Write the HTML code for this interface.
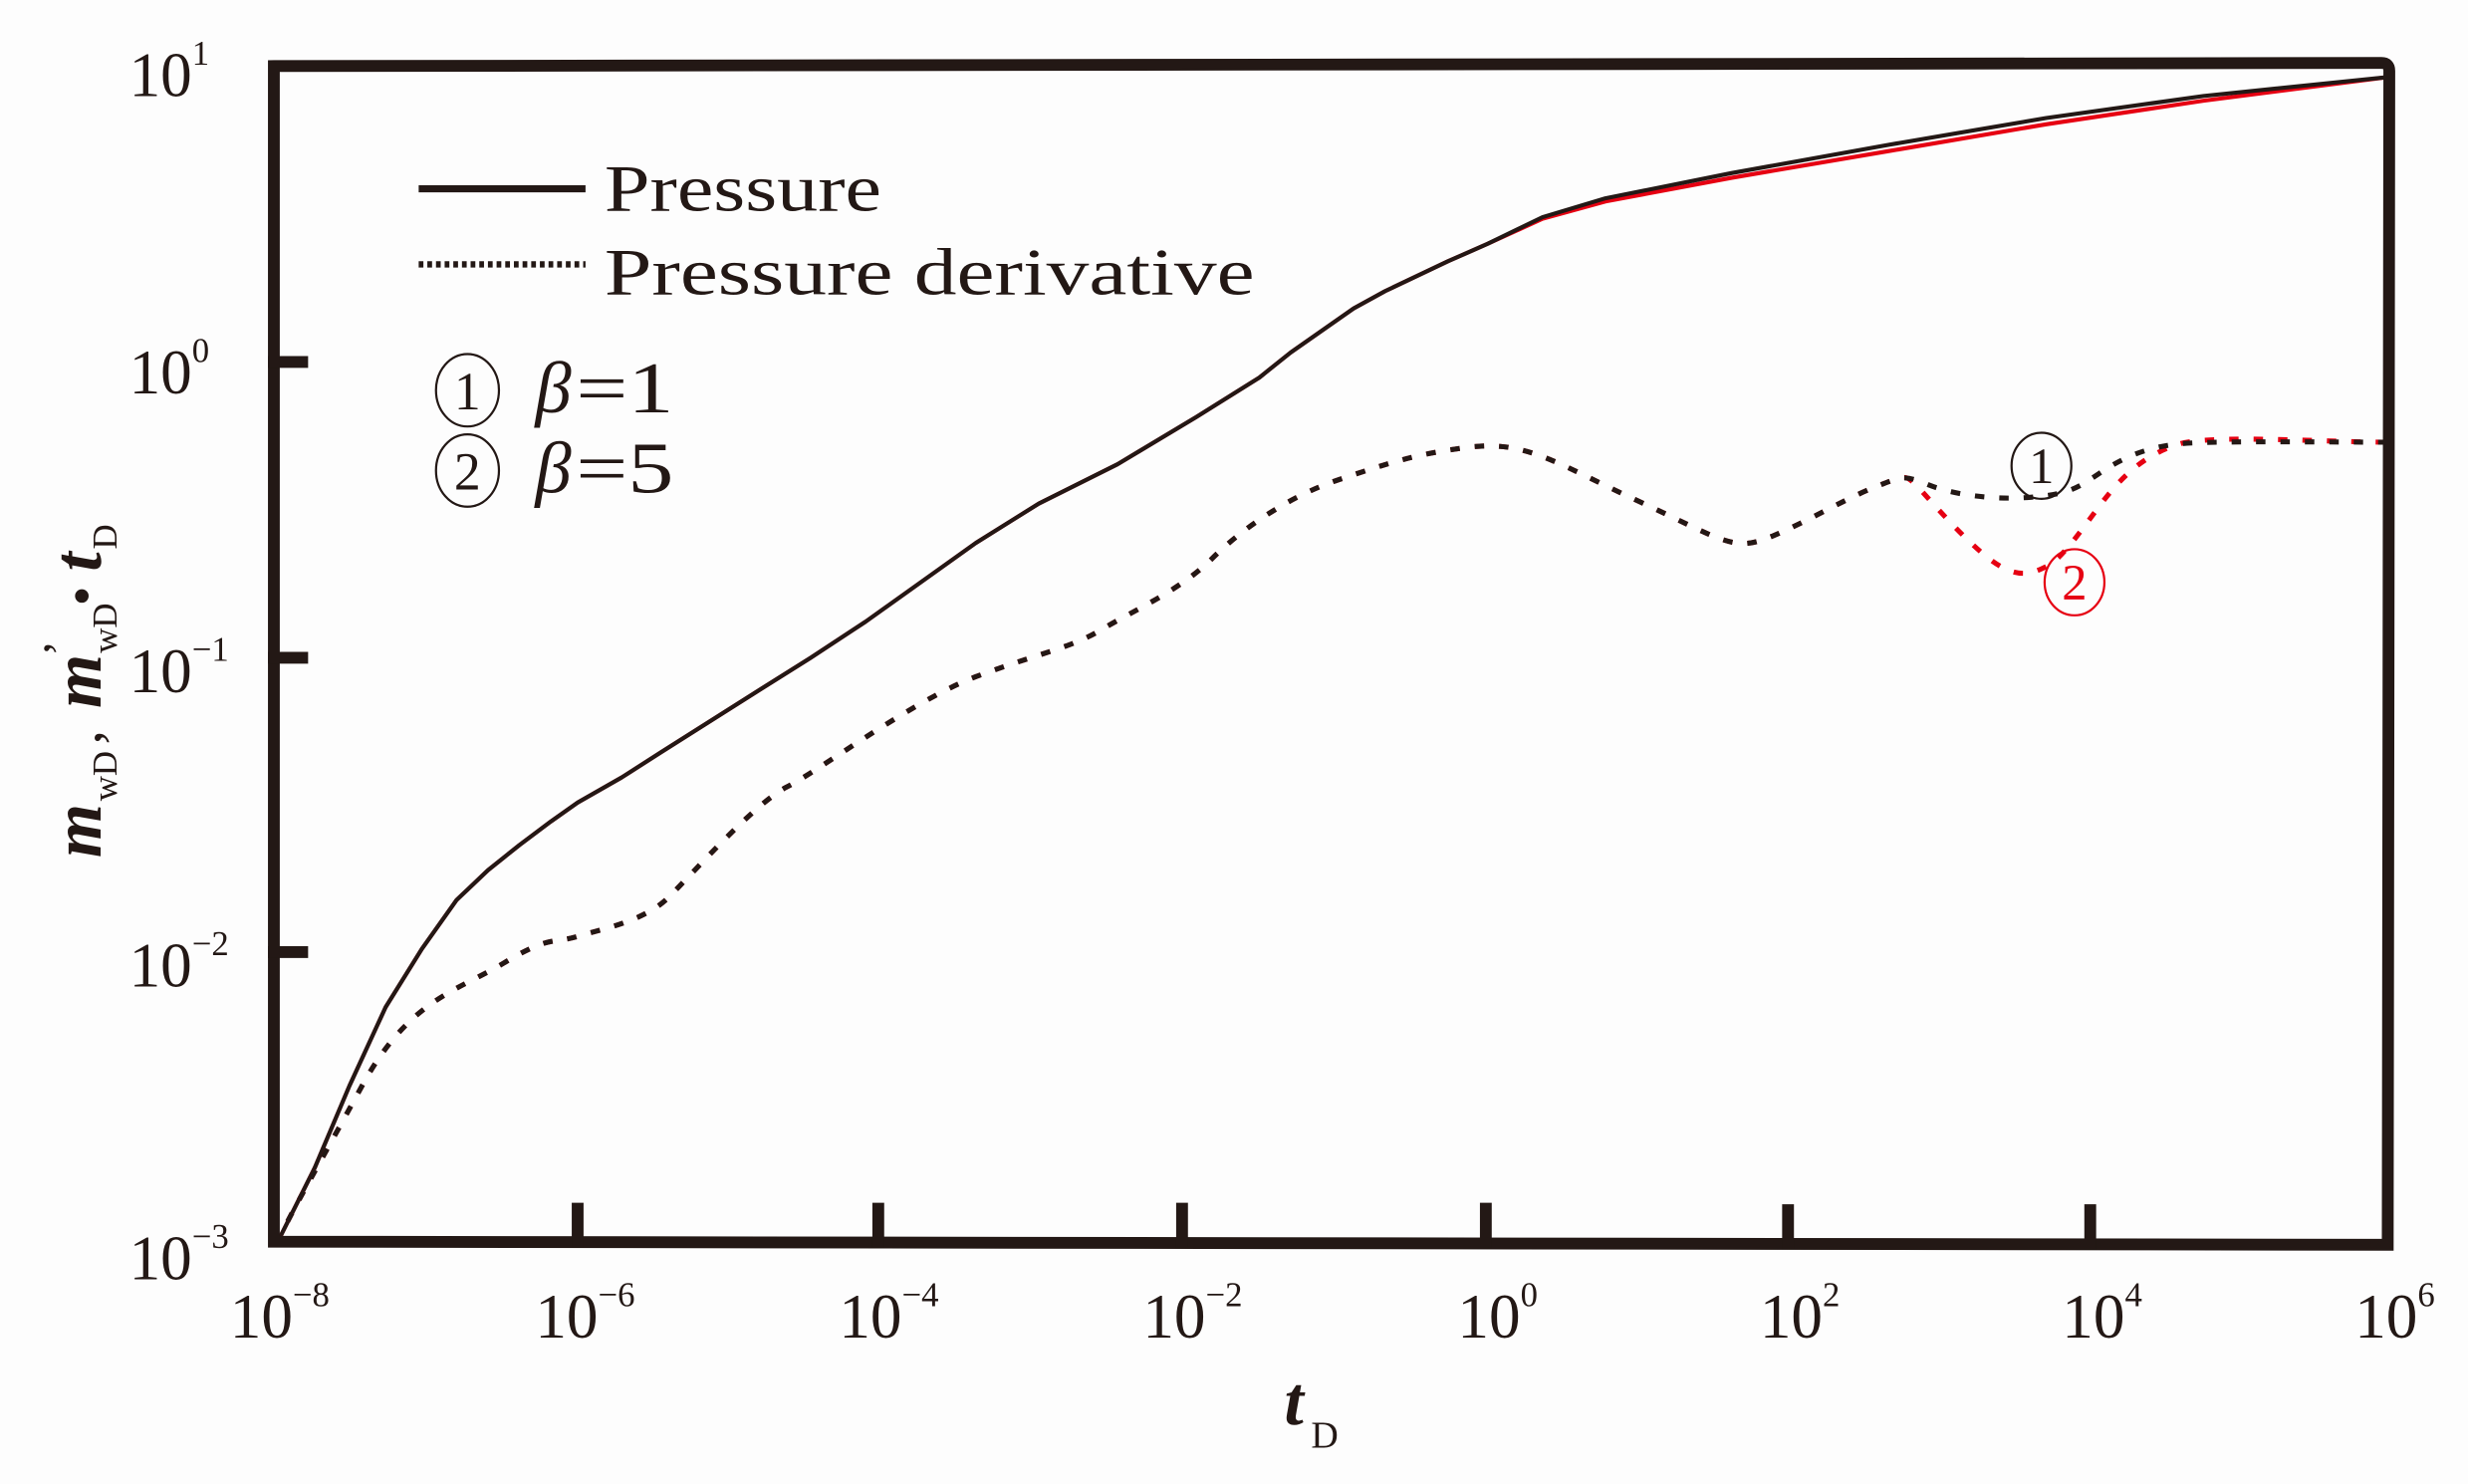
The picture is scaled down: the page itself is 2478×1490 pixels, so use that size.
<!DOCTYPE html>
<html><head><meta charset="utf-8"><style>
html,body{margin:0;padding:0;background:#fdfdfd;}
svg{display:block}
</style></head><body>
<svg width="2478" height="1490" viewBox="0 0 1568 943" preserveAspectRatio="none" xmlns="http://www.w3.org/2000/svg">
<rect width="1568" height="943" fill="#fdfdfd"/>
<g font-family="'Liberation Serif', serif" fill="#231815">
<text x="82" y="61" font-size="40">10<tspan font-size="22" dy="-20">1</tspan></text>
<text x="82" y="250" font-size="40">10<tspan font-size="22" dy="-20">0</tspan></text>
<text x="82" y="440" font-size="40">10<tspan font-size="22" dy="-20">−1</tspan></text>
<text x="82" y="627" font-size="40">10<tspan font-size="22" dy="-20">−2</tspan></text>
<text x="82" y="813" font-size="40">10<tspan font-size="22" dy="-20">−3</tspan></text>
<text x="146" y="850" font-size="40">10<tspan font-size="22" dy="-20">−8</tspan></text>
<text x="340" y="850" font-size="40">10<tspan font-size="22" dy="-20">−6</tspan></text>
<text x="533" y="850" font-size="40">10<tspan font-size="22" dy="-20">−4</tspan></text>
<text x="726" y="850" font-size="40">10<tspan font-size="22" dy="-20">−2</tspan></text>
<text x="926" y="850" font-size="40">10<tspan font-size="22" dy="-20">0</tspan></text>
<text x="1118" y="850" font-size="40">10<tspan font-size="22" dy="-20">2</tspan></text>
<text x="1310" y="850" font-size="40">10<tspan font-size="22" dy="-20">4</tspan></text>
<text x="1496" y="850" font-size="40">10<tspan font-size="22" dy="-20">6</tspan></text>
<text x="816" y="905" font-size="44" font-style="italic" font-weight="bold">t</text>
<text x="833" y="920" font-size="24">D</text>
<g transform="translate(64,545) rotate(-90)">
<text x="0" y="0" font-size="44" font-style="italic" font-weight="bold">m</text>
<text x="36" y="10" font-size="22">wD</text>
<text x="72" y="0" font-size="36">,</text>
<text x="95" y="0" font-size="44" font-style="italic" font-weight="bold">m</text>
<text x="128" y="-16" font-size="30">’</text>
<text x="130" y="10" font-size="22">wD</text>
<text x="160" y="0" font-size="36">•</text>
<text x="182" y="0" font-size="44" font-style="italic" font-weight="bold">t</text>
<text x="196" y="10" font-size="22">D</text>
</g>
<text x="384" y="134" font-size="42" textLength="176" lengthAdjust="spacingAndGlyphs">Pressure</text>
<text x="384" y="187" font-size="42" textLength="413" lengthAdjust="spacingAndGlyphs">Pressure  derivative</text>
<text x="340" y="262" font-size="46" font-style="italic">β</text>
<text x="366" y="262" font-size="46" textLength="62" lengthAdjust="spacingAndGlyphs">=1</text>
<text x="340" y="313" font-size="46" font-style="italic">β</text>
<text x="366" y="313" font-size="46" textLength="62" lengthAdjust="spacingAndGlyphs">=5</text>
<text x="297" y="260" font-size="34" text-anchor="middle">1</text>
<text x="297" y="311" font-size="34" text-anchor="middle">2</text>
<text x="1297" y="307" font-size="32" text-anchor="middle">1</text>
<text x="1318" y="381" font-size="32" text-anchor="middle" fill="#e60012">2</text>
</g>
<g fill="none" stroke-width="1.4">
<ellipse cx="297" cy="248" rx="20" ry="23" stroke="#231815"/>
<ellipse cx="297" cy="299" rx="20" ry="23" stroke="#231815"/>
<ellipse cx="1297" cy="296" rx="19" ry="21" stroke="#231815"/>
<ellipse cx="1318" cy="370" rx="19" ry="21" stroke="#e60012"/>
</g>
<line x1="266" y1="120" x2="372" y2="120" stroke="#231815" stroke-width="4.5"/>
<line x1="266" y1="168" x2="372" y2="168" stroke="#231815" stroke-width="4" stroke-dasharray="3 2.5"/>
<g fill="none" stroke-width="2.6" stroke-linejoin="round">
<polyline stroke="#e60012" points="176,790 200,742 222,690 245,640 268,603 290,572 310,553 330,537 350,522 367,510 395,494 420,478 450,459 480,440 515,418 550,395 585,370 620,345 660,320 710,295 760,265 800,240 820,224 840,210 860,196 880,185 920,166 945,155 980,139 1020,128 1100,113 1200,96 1300,79 1400,64 1517,49"/>
<polyline stroke="#231815" points="176,790 200,742 222,690 245,640 268,603 290,572 310,553 330,537 350,522 367,510 395,494 420,478 450,459 480,440 515,418 550,395 585,370 620,345 660,320 710,295 760,265 800,240 820,224 840,210 860,196 880,185 920,166 945,155 980,138 1020,126 1100,110 1200,92 1300,75 1400,61 1517,49"/>
</g>
<path fill="none" stroke="#e60012" stroke-width="3.2" stroke-dasharray="6 9.5" d="M176,790 C185,770 200,745 230,690 S290,630 320,612 S350,600 367,595 S410,585 425,570 S480,510 500,500 S580,445 620,430 S680,412 700,400 S750,375 770,355 S820,315 850,305 S900,288 935,284 S990,295 1040,318 S1100,350 1120,343 S1170,318 1190,310 S1210,302 1215,306 S1240,335 1260,352 S1290,365 1300,360 S1320,340 1335,320 S1365,288 1385,282 S1480,281 1517,281"/>
<path fill="none" stroke="#231815" stroke-width="3.2" stroke-dasharray="6 9.5" d="M176,790 C185,770 200,745 230,690 S290,630 320,612 S350,600 367,595 S410,585 425,570 S480,510 500,500 S580,445 620,430 S680,412 700,400 S750,375 770,355 S820,315 850,305 S900,288 935,284 S990,295 1040,318 S1100,350 1120,343 S1170,318 1190,310 S1210,302 1225,308 S1265,318 1290,316 S1320,310 1335,300 S1365,284 1385,282 S1480,281 1517,281"/>
<g stroke="#231815" stroke-width="7.5" fill="none" stroke-linecap="square">
<path d="M174,42 L1513,40 Q1518,40 1518,45 L1517,791 L174,789 Z"/>
<line x1="367" y1="789" x2="367" y2="768"/>
<line x1="558" y1="789" x2="558" y2="768"/>
<line x1="751" y1="789" x2="751" y2="768"/>
<line x1="944" y1="789" x2="944" y2="768"/>
<line x1="1136" y1="790" x2="1136" y2="769"/>
<line x1="1328" y1="790" x2="1328" y2="769"/>
<line x1="174" y1="230" x2="192" y2="230"/>
<line x1="174" y1="418" x2="192" y2="418"/>
<line x1="174" y1="605" x2="192" y2="605"/>
</g>
</svg>
</body></html>
